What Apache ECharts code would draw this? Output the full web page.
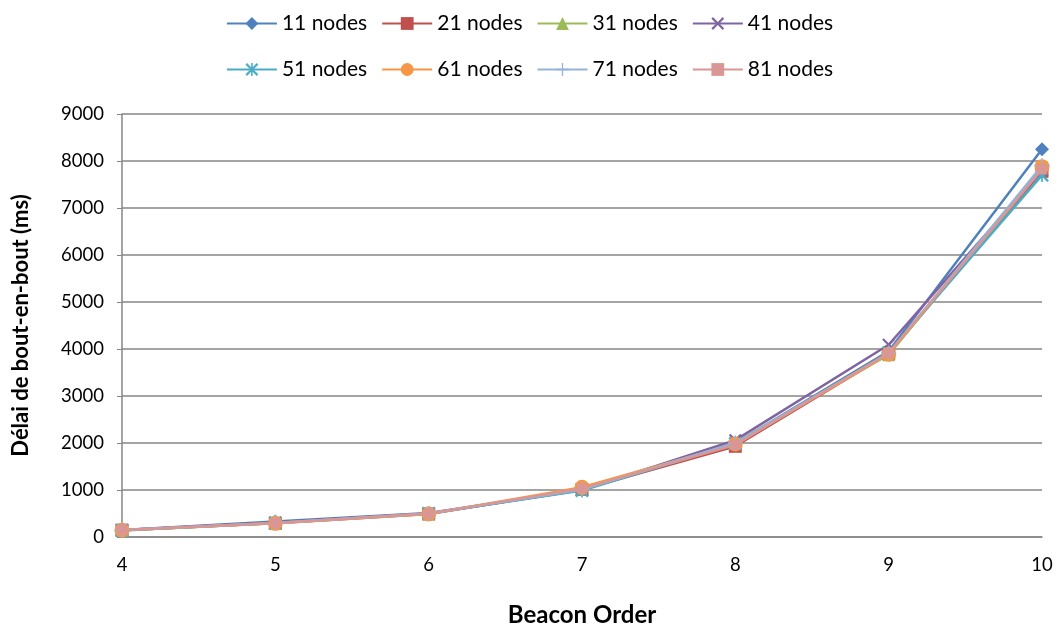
<!DOCTYPE html>
<html><head><meta charset="utf-8">
<script src="https://cdn.jsdelivr.net/npm/echarts@6/dist/echarts.min.js"></script>
<style>html,body{margin:0;padding:0;background:#fff}#c{width:1059px;height:628px}</style>
</head><body><div id="c"></div>
<script>
const beaconOrder = [4, 5, 6, 7, 8, 9, 10];
const seriesNames = ['11 nodes','21 nodes','31 nodes','41 nodes','51 nodes','61 nodes','71 nodes','81 nodes'];
const n11 = [150, 330, 510, 1000, 2000, 3950, 8250];
const n21 = [145, 290, 490, 1010, 1930, 3900, 7780];
const n31 = [145, 300, 495, 1020, 2010, 3880, 7830];
const n41 = [150, 310, 500, 1000, 2060, 4090, 7800];
const n51 = [140, 300, 500, 990, 1990, 3920, 7700];
const n61 = [145, 290, 490, 1060, 1980, 3890, 7880];
const n71 = [150, 300, 500, 1010, 2000, 3910, 7900];
const n81 = [150, 300, 500, 1030, 1960, 3920, 7820];
const yTicks = [0,1000,2000,3000,4000,5000,6000,7000,8000,9000];

const allData = [n11,n21,n31,n41,n51,n61,n71,n81];
const colors = ['#4F81BD','#C0504D','#9BBB59','#8064A2','#4BACC6','#F79646','#95B3D7','#D99694'];
const X = 'path://M0,1.2L1.2,0L5,3.8L8.8,0L10,1.2L6.2,5L10,8.8L8.8,10L5,6.2L1.2,10L0,8.8L3.8,5Z';
const STAR = 'path://M0,1.2L1.2,0L5,3.8L8.8,0L10,1.2L6.2,5L10,8.8L8.8,10L5,6.2L1.2,10L0,8.8L3.8,5Z M4.4,0H5.6V10H4.4Z';
const PLUS = 'path://M4.5,0H5.5V4.5H10V5.5H5.5V10H4.5V5.5H0V4.5H4.5Z';
const DASH = 'path://M0,3H10V7H0Z';
const symbols = ['diamond','rect','triangle',X,STAR,'circle',PLUS,DASH];
const sizes = [14,13,13,13,14,15,15,10];

const series = seriesNames.map((name,i)=>({
  name, type:'line',
  data: beaconOrder.map((x,j)=>[x, allData[i][j]]),
  symbol: symbols[i], symbolSize: sizes[i], showAllSymbol:true,
  itemStyle:{color:colors[i]},
  lineStyle:{color:colors[i], width:2.5},
  z: 2+i
}));

const font = 'Lato, "Open Sans", sans-serif';
const chart = echarts.init(document.getElementById('c'));
const legendCommon = {
  left:'center', itemWidth:50, itemHeight:16, itemGap:14,
  textStyle:{fontSize:21, color:'#000', fontFamily:font}
};
chart.setOption({
  animation:false,
  legend:[
    Object.assign({top:8, data:seriesNames.slice(0,4)}, legendCommon),
    Object.assign({top:54, data:seriesNames.slice(4)}, legendCommon)
  ],
  grid:{left:122, right:17, top:114, bottom:91, containLabel:false, outerBoundsMode:'none'},
  xAxis:{
    type:'value', min:4, max:10, interval:1,
    name:'Beacon Order', nameLocation:'middle', nameGap:66,
    nameTextStyle:{fontSize:24, fontWeight:'bold', color:'#000', fontFamily:font},
    axisLine:{lineStyle:{color:'#868686', width:1.5}},
    axisTick:{show:false},
    splitLine:{show:false},
    axisLabel:{fontSize:18.5, color:'#000', margin:19, fontFamily:font}
  },
  yAxis:{
    type:'value', min:0, max:9000, interval:1000,
    name:'Délai de bout-en-bout (ms)', nameLocation:'middle', nameGap:90,
    nameTextStyle:{fontSize:22, fontWeight:'bold', color:'#000', fontFamily:font},
    axisLine:{show:true, lineStyle:{color:'#868686', width:1.5}},
    axisTick:{show:true, length:5, lineStyle:{color:'#868686'}},
    splitLine:{lineStyle:{color:'#868686', width:1.5}},
    axisLabel:{fontSize:18.5, color:'#000', margin:18, fontFamily:font,
      formatter:v=> yTicks.includes(v) ? String(v) : ''}
  },
  series
});
</script></body></html>
